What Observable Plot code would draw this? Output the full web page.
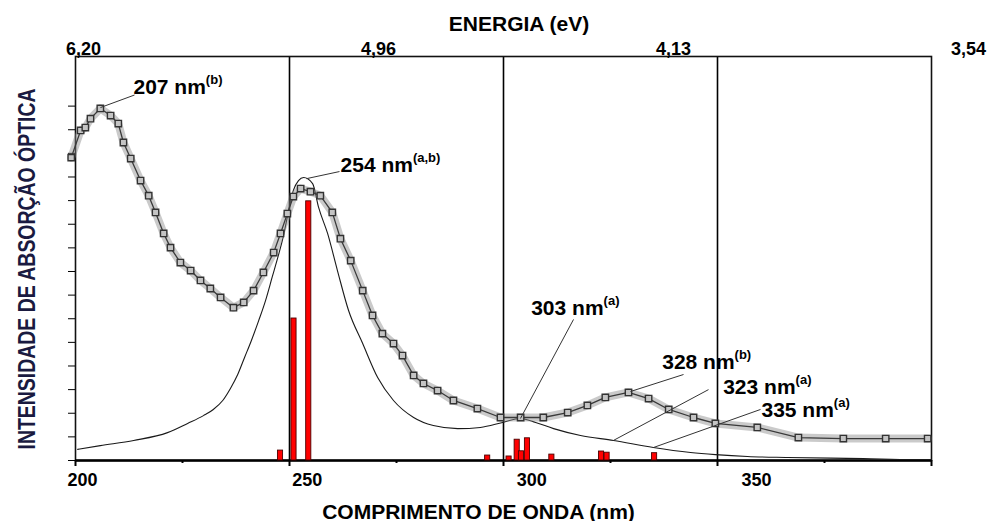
<!DOCTYPE html>
<html><head><meta charset="utf-8">
<script src="https://cdn.jsdelivr.net/npm/d3@7"></script>
<script src="https://cdn.jsdelivr.net/npm/@observablehq/plot@0.6"></script>
<style>
html,body{margin:0;padding:0;background:#fff;}
#chart{position:relative;width:993px;height:521px;overflow:hidden;background:#fff;}
#chart svg{position:absolute;left:0;top:0;}
</style></head><body><div id="chart"></div>
<script>
// ---- Experimental spectrum (gray squares) ----
const expNm = [199.0, 201.2, 202.3, 203.5, 205.8, 208.2, 210.0, 211.2, 212.9, 215.2, 217.1, 218.7, 220.6, 222.2, 224.5, 226.9, 229.2, 231.5, 233.9, 236.9, 239.3, 241.6, 243.9, 246.3, 247.9, 249.5, 250.9, 252.6, 254.9, 257.2, 260.0, 261.9, 264.3, 267.1, 269.4, 271.7, 274.3, 276.4, 279.0, 281.3, 284.6, 288.3, 293.9, 299.3, 304.0, 309.3, 315.0, 319.6, 323.8, 329.2, 333.9, 338.6, 344.4, 349.5, 359.3, 368.9, 379.4, 389.3, 399.1];
const expVal = [12.82, 13.97, 14.09, 14.47, 14.90, 14.60, 14.26, 13.46, 12.78, 11.85, 11.21, 10.50, 9.61, 9.01, 8.38, 8.04, 7.62, 7.28, 6.90, 6.47, 6.69, 7.19, 7.96, 8.80, 9.61, 10.45, 11.17, 11.51, 11.38, 11.21, 10.50, 9.39, 8.46, 7.19, 6.14, 5.37, 4.95, 4.44, 3.60, 3.26, 2.96, 2.54, 2.20, 1.82, 1.82, 1.82, 2.03, 2.33, 2.67, 2.88, 2.62, 2.16, 1.82, 1.57, 1.40, 0.97, 0.93, 0.93, 0.93];

// ---- Theoretical (simulated) spectrum, thin black line ----
const theoNm = [200.5, 205.8, 213.6, 221.5, 226.2, 229.9, 232.2, 234.4, 236.2, 237.9, 239.5, 241.1, 242.8, 244.4, 246.0, 247.4, 248.6, 249.8, 250.9, 252.1, 253.3, 255.4, 256.8, 258.9, 261.2, 263.8, 267.1, 270.6, 274.3, 279.0, 283.6, 289.3, 294.6, 299.8, 304.0, 307.5, 311.7, 318.0, 325.7, 335.0, 343.7, 349.5, 357.0, 366.4, 384.1, 395.8, 400.0];
const theoVal = [0.47, 0.63, 0.85, 1.18, 1.57, 1.90, 2.16, 2.54, 3.05, 3.64, 4.36, 5.08, 5.92, 6.77, 7.79, 8.68, 9.52, 10.58, 11.43, 11.85, 11.98, 11.72, 10.71, 9.61, 8.04, 6.35, 4.95, 3.51, 2.54, 1.82, 1.48, 1.35, 1.40, 1.61, 1.78, 1.61, 1.35, 1.06, 0.85, 0.55, 0.34, 0.25, 0.17, 0.13, 0.08, 0.04, 0.04];

// ---- Calculated transitions (red bars) ----
const barNm  = [247.9, 251.05, 254.5, 296.3, 301.3, 303.2, 304.2, 305.6, 311.3, 322.9, 324.2, 335.3];
const barVal = [0.42, 6.01, 10.97, 0.21, 0.17, 0.88, 0.39, 0.94, 0.25, 0.38, 0.33, 0.31];

// ---- Peak annotations ----
const annText = ["207 nm", "254 nm", "303 nm", "328 nm", "323 nm", "335 nm"];
const annSup  = ["(b)", "(a,b)", "(a)", "(b)", "(a)", "(a)"];
const annPointNm  = [205.84, 253.97, 303.97, 329.67, 325.70, 335.05];
const annPointVal = [14.94, 11.93, 1.78, 2.92, 0.85, 0.55];
const annLeadNm   = [213.79, 261.68, 316.36, 342.06, 347.90, 360.05];
const annLeadVal  = [15.47, 12.23, 5.97, 3.64, 3.00, 2.16];
const annLabelNm  = [213.55, 261.92, 306.47, 337.08, 351.33, 360.28];
const annLabelVal = [15.52, 12.20, 6.14, 3.88, 2.82, 1.86];

// ---- Axes ----
const gridNm = [250, 300, 350];
const majorTicks = [200, 250, 300, 350, 400];
const minorTicks = [225, 275, 325, 375];
const wavelengthLabels = [200, 250, 300, 350];
const energyLabels = ["6,20", "4,96", "4,13", "3,54"];
const yTicks = [0,1,2,3,4,5,6,7,8,9,10,11,12,13,14,15];
const xTitle = "COMPRIMENTO DE ONDA (nm)";
const topTitle = "ENERGIA (eV)";
const yTitle = "INTENSIDADE DE ABSORÇÃO ÓPTICA";

// tables built from the arrays
const expData = expNm.map((x, i) => ({x, y: expVal[i]}));
const theoData = theoNm.map((x, i) => ({x, y: theoVal[i]}));
const bars = barNm.map((x, i) => ({x, y: barVal[i]}));
const ann = annText.map((t, i) => ({t, sup: annSup[i], px: annPointNm[i], py: annPointVal[i], lx: annLeadNm[i], ly: annLeadVal[i], tx: annLabelNm[i], ty: annLabelVal[i]}));

const FONT = "Liberation Sans, Arial, Helvetica, sans-serif";
const W = 993, H = 521, MT = 56, MB = 61;
const baseStyle = {background: "transparent", overflow: "visible", fontFamily: FONT, color: "#000"};
const barHalf = 0.6;

const mainPlot = Plot.plot({
  width: W, height: H,
  marginLeft: 75, marginRight: 62, marginTop: MT, marginBottom: MB,
  style: baseStyle,
  x: {domain: [200, 400]},
  y: {domain: [0, 17.1]},
  marks: [
    Plot.ruleX(gridNm, {stroke: "#000", strokeWidth: 1.6}),
    Plot.frame({stroke: "#111", strokeWidth: 1.6}),
    Plot.axisY({ticks: yTicks, tickSize: 7, tickFormat: () => "", label: null, strokeWidth: 1}),
    Plot.axisX({ticks: majorTicks, tickSize: 6, tickFormat: () => "", label: null, strokeWidth: 2}),
    Plot.axisX({ticks: minorTicks, tickSize: 3, tickFormat: () => "", label: null, strokeWidth: 2}),
    Plot.ruleY([0], {stroke: "#000", strokeWidth: 2.5}),
    Plot.line(theoData, {x: "x", y: "y", stroke: "#1a1a1a", strokeWidth: 1.1, curve: "monotone-x"}),
    Plot.line(expData, {x: "x", y: "y", stroke: "#8a8a8a", strokeWidth: 8, strokeOpacity: 0.45}),
    Plot.line(expData, {x: "x", y: "y", stroke: "#3a3a3a", strokeWidth: 1.3}),
    Plot.dot(expData, {x: "x", y: "y", symbol: "square", r: 3.6, fill: "#c4c4c4", stroke: "#333", strokeWidth: 1.4}),
    Plot.rectY(bars, {x1: d => d.x - barHalf, x2: d => d.x + barHalf, y1: 0, y2: "y", fill: "#ff0000", stroke: "#4a0000", strokeWidth: 0.9}),
    Plot.link(ann, {x1: "px", y1: "py", x2: "lx", y2: "ly", stroke: "#333", strokeWidth: 1}),
    Plot.text(ann, {x: "tx", y: "ty", text: "t", textAnchor: "start", lineAnchor: "bottom", fontSize: 21, fontWeight: "bold", fill: "#000"}),
    Plot.text([yTitle], {text: d => d, frameAnchor: "left", rotate: -90, textAnchor: "start", lineAnchor: "middle", dx: -48, dy: 191, fontSize: 24, fontWeight: "bold", fill: "#1a1a40"}),
    Plot.text([xTitle], {text: d => d, frameAnchor: "bottom", lineAnchor: "bottom", dx: -25, dy: 58, fontSize: 21, fontWeight: "bold", fill: "#000"})
  ]
});

// energy (top) labels, spread as in the original figure
const topPlot = Plot.plot({
  width: W, height: H,
  marginLeft: 83, marginRight: 25, marginTop: MT, marginBottom: MB,
  style: baseStyle,
  x: {domain: [200, 350]},
  marks: [
    Plot.axisX({anchor: "top", ticks: wavelengthLabels, tickSize: 0, tickPadding: 2, label: null,
      tickFormat: d => energyLabels[wavelengthLabels.indexOf(d)], fontSize: 18, fontWeight: "bold"}),
    Plot.text([topTitle], {text: d => d, frameAnchor: "top", lineAnchor: "bottom", dx: -7, dy: -26, fontSize: 21, fontWeight: "bold", fill: "#000"})
  ]
});

// wavelength (bottom) labels, spread as in the original figure
const bottomPlot = Plot.plot({
  width: W, height: H,
  marginLeft: 82, marginRight: 237, marginTop: MT, marginBottom: MB,
  style: baseStyle,
  x: {domain: [200, 350]},
  marks: [
    Plot.axisX({anchor: "bottom", ticks: wavelengthLabels, tickSize: 0, tickPadding: 13, label: null,
      tickFormat: d => String(d), fontSize: 18, fontWeight: "bold"})
  ]
});

// superscripts on the peak labels and compressed y title
d3.select(mainPlot).selectAll("text").each(function() {
  const s = this.textContent;
  const i = annText.indexOf(s);
  if (i >= 0) {
    const t = document.createElementNS("http://www.w3.org/2000/svg", "tspan");
    t.setAttribute("font-size", "13");
    t.setAttribute("dy", "-10");
    t.textContent = annSup[i];
    this.appendChild(t);
  }
  if (s === yTitle) {
    this.setAttribute("textLength", "361");
    this.setAttribute("lengthAdjust", "spacingAndGlyphs");
  }
});

const chart = document.getElementById("chart");
chart.appendChild(mainPlot);
chart.appendChild(topPlot);
chart.appendChild(bottomPlot);
</script>
</body></html>
